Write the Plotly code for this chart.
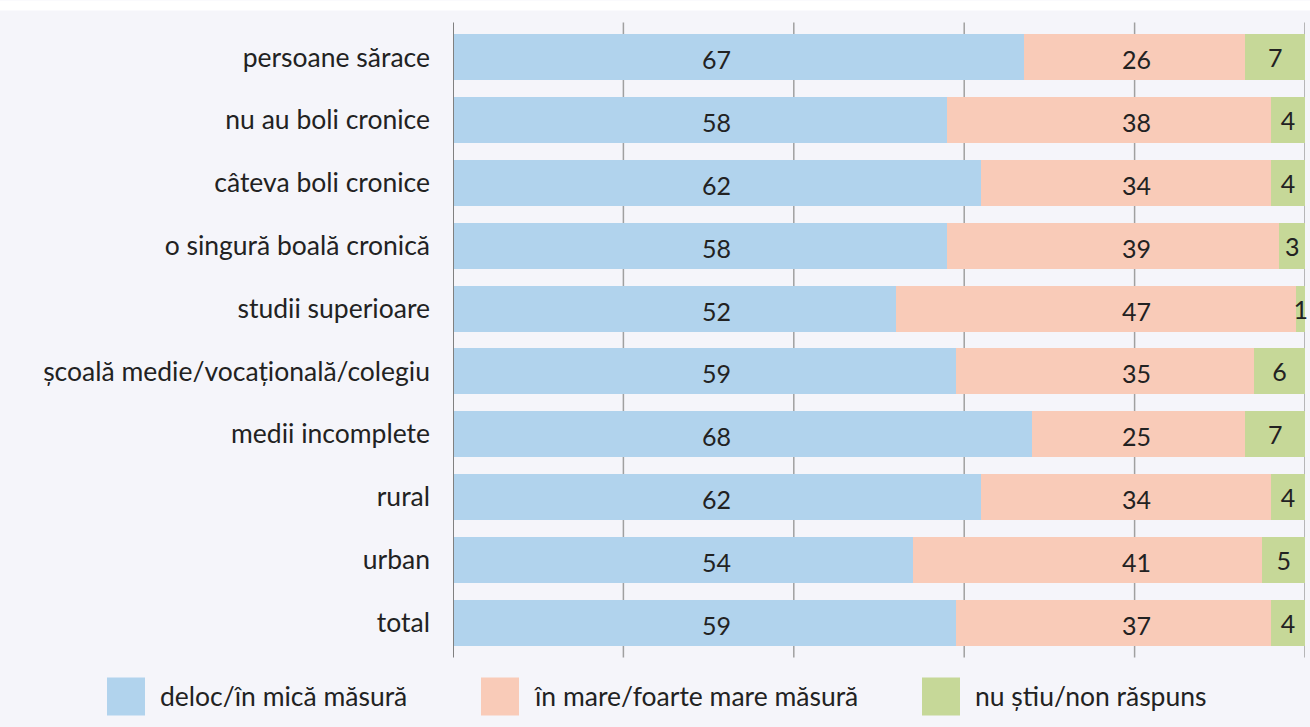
import plotly.graph_objects as go

categories = [
    "persoane sărace",
    "nu au boli cronice",
    "câteva boli cronice",
    "o singură boală cronică",
    "studii superioare",
    "școală medie/vocațională/colegiu",
    "medii incomplete",
    "rural",
    "urban",
    "total",
]
series_names = ["deloc/în mică măsură", "în mare/foarte mare măsură", "nu știu/non răspuns"]
deloc = [67, 58, 62, 58, 52, 59, 68, 62, 54, 59]
in_mare = [26, 38, 34, 39, 47, 35, 25, 34, 41, 37]
nu_stiu = [7, 4, 4, 3, 1, 6, 7, 4, 5, 4]
x_ticks = [0, 20, 40, 60, 80, 100]

colors = ["#b1d3ed", "#f9cbb8", "#c6d898"]
font_family = "Lato, Open Sans, sans-serif"
label_size = 26.5
value_size = 25
text_color = "#222222"

# the source chart keeps the first two series' labels in fixed columns
label_columns = [30.9, 80.2, None]

fig = go.Figure()
for name, values, color, col in zip(series_names, [deloc, in_mare, nu_stiu], colors, label_columns):
    fig.add_trace(
        go.Bar(
            x=values,
            y=categories,
            orientation="h",
            name=name,
            marker=dict(color=color, line=dict(width=0)),
            text=values if col is None else None,
            textposition="inside",
            insidetextanchor="middle",
            textangle=0,
            constraintext="none",
            textfont=dict(size=value_size, color=text_color, family=font_family),
            cliponaxis=False,
        )
    )

for values, col in zip([deloc, in_mare, nu_stiu], label_columns):
    if col is None:
        continue
    for cat, v in zip(categories, values):
        fig.add_annotation(
            x=col, y=cat, xref="x", yref="y",
            text=str(v), showarrow=False, yshift=-2,
            font=dict(size=value_size, color=text_color, family=font_family),
        )

plot_top, plot_bottom = 25.5, 654.5
plot_h = plot_bottom - plot_top
plot_w = 1310 - 453 - 5
grid_ext = 3.5 / plot_h

fig.update_layout(
    width=1310,
    height=727,
    barmode="stack",
    bargap=0.27,
    showlegend=False,
    paper_bgcolor="#f5f5fa",
    plot_bgcolor="#f5f5fa",
    margin=dict(l=453, r=5, t=plot_top, b=727 - plot_bottom),
    font=dict(family=font_family, size=label_size, color=text_color),
    xaxis=dict(
        range=[0, 100],
        tickvals=x_ticks,
        showticklabels=False,
        showgrid=False,
        zeroline=False,
        showline=False,
        fixedrange=True,
    ),
    yaxis=dict(
        categoryorder="array",
        categoryarray=categories,
        autorange="reversed",
        showgrid=False,
        ticks="",
        ticklabelstandoff=22,
        tickfont=dict(size=label_size, color=text_color),
        showline=False,
        fixedrange=True,
    ),
)

# vertical gridlines, slightly longer than the plot area
for t in x_ticks:
    fig.add_shape(
        type="line", xref="x", yref="paper", x0=t, x1=t,
        y0=-grid_ext, y1=1 + grid_ext,
        line=dict(color="#808080" if t == 0 else "#a0a0a0", width=2 if t == 0 else 1.5),
        layer="above" if t == 0 else "below",
    )

# white strip at top of the image
fig.add_shape(
    type="rect", xref="paper", yref="paper",
    x0=-453 / plot_w, x1=1 + 5 / plot_w,
    y0=1 + (plot_top - 10) / plot_h, y1=1 + plot_top / plot_h,
    fillcolor="white", line=dict(width=0), layer="below",
)

# custom legend with large swatches
legend_x = [107, 481, 922]
legend_y = 697
for name, color, lx in zip(series_names, colors, legend_x):
    fig.add_shape(
        type="rect", xref="paper", yref="paper",
        x0=(lx - 453) / plot_w, x1=(lx + 38 - 453) / plot_w,
        y0=-(legend_y + 19 - plot_bottom) / plot_h,
        y1=-(legend_y - 19 - plot_bottom) / plot_h,
        fillcolor=color, line=dict(width=0),
    )
    fig.add_annotation(
        x=(lx + 51 - 453) / plot_w, y=-(legend_y - plot_bottom) / plot_h,
        xref="paper", yref="paper", xanchor="left", yanchor="middle",
        text=name, showarrow=False, font=dict(size=label_size, color=text_color),
    )

fig.write_html(
    "out.html",
    config={"displayModeBar": False},
    post_script="document.body.style.margin='0';document.body.style.overflow='hidden';",
)
